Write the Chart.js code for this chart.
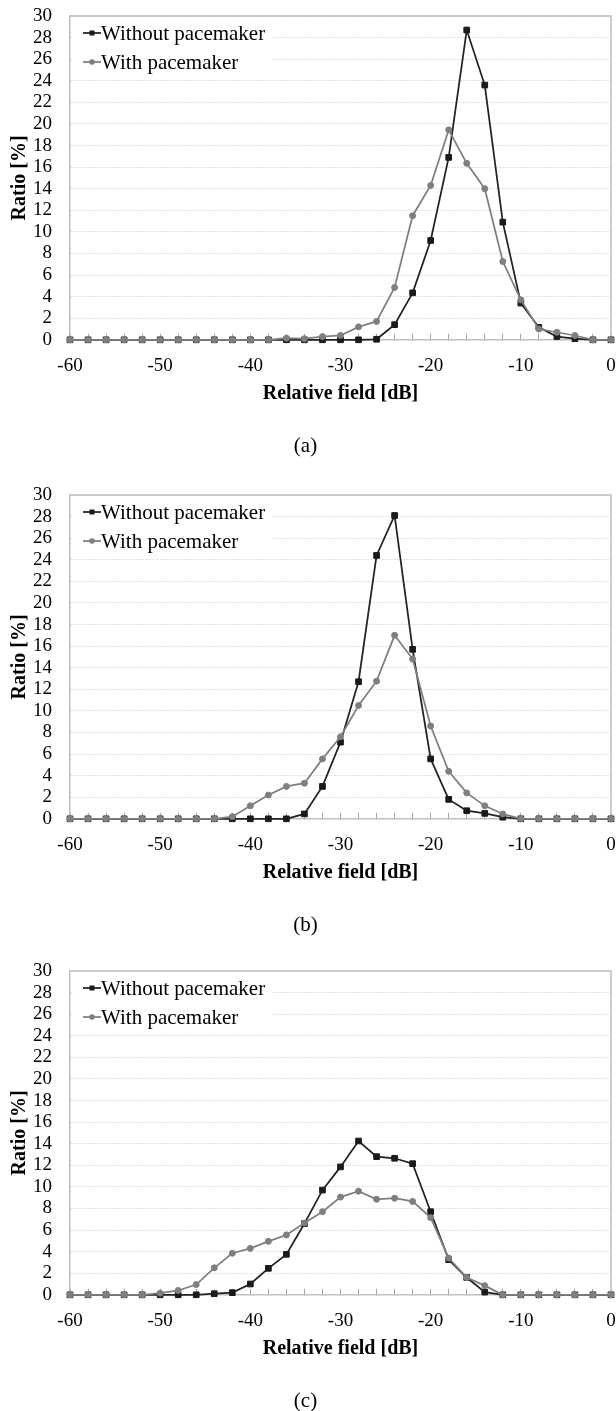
<!DOCTYPE html>
<html lang="en">
<head>
  <meta charset="UTF-8">
  <title>Relative field distribution</title>
  <script src="https://cdn.jsdelivr.net/npm/chart.js"></script>
  <style>
    html, body { margin: 0; padding: 0; background: #fff; overflow: hidden; }
    body { width: 616px; height: 1411px; position: relative; }
    canvas { position: absolute; left: 0; }
  </style>
</head>
<body>
  <canvas id="chartA" width="616" height="459" style="top:0px"></canvas>
  <canvas id="chartB" width="616" height="459" style="top:479px"></canvas>
  <canvas id="chartC" width="616" height="459" style="top:955px"></canvas>
  <script>
    // relative field [dB], one point every 2 dB
    const fieldDb = [-60, -58, -56, -54, -52, -50, -48, -46, -44, -42, -40, -38, -36, -34, -32, -30,
                     -28, -26, -24, -22, -20, -18, -16, -14, -12, -10, -8, -6, -4, -2, 0];

    const seriesNames = ['Without pacemaker', 'With pacemaker'];
    const captions = ['(a)', '(b)', '(c)'];
    const yTicks = { min: 0, max: 30, step: 2 };
    const xTicks = { min: -60, max: 0, step: 2, labelEvery: 10 };

    // ratio [%]
    const aWithout = [0, 0, 0, 0, 0, 0, 0, 0, 0, 0, 0, 0, 0, 0, 0, 0, 0, 0.05, 1.4, 4.35, 9.2, 16.9, 28.7, 23.6, 10.9, 3.4, 1.15, 0.3, 0.1, 0, 0];
    const aWith    = [0, 0, 0, 0, 0, 0, 0, 0, 0, 0, 0, 0, 0.15, 0.1, 0.3, 0.4, 1.2, 1.7, 4.85, 11.5, 14.3, 19.45, 16.35, 14.0, 7.25, 3.7, 1.0, 0.7, 0.4, 0, 0];

    const bWithout = [0, 0, 0, 0, 0, 0, 0, 0, 0, 0, 0, 0, 0, 0.45, 3.0, 7.1, 12.7, 24.4, 28.1, 15.7, 5.55, 1.8, 0.75, 0.5, 0.15, 0, 0, 0, 0, 0, 0];
    const bWith    = [0, 0, 0, 0, 0, 0, 0, 0, 0, 0.2, 1.2, 2.2, 3.0, 3.3, 5.55, 7.6, 10.5, 12.75, 17.0, 14.8, 8.6, 4.4, 2.4, 1.2, 0.45, 0, 0, 0, 0, 0, 0];

    const cWithout = [0, 0, 0, 0, 0, 0, 0, 0, 0.1, 0.2, 1.0, 2.45, 3.75, 6.6, 9.7, 11.85, 14.25, 12.8, 12.65, 12.15, 7.7, 3.25, 1.6, 0.25, 0, 0, 0, 0, 0, 0, 0];
    const cWith    = [0, 0, 0, 0, 0, 0.15, 0.4, 0.95, 2.5, 3.85, 4.3, 4.95, 5.55, 6.65, 7.7, 9.05, 9.6, 8.85, 8.95, 8.65, 7.15, 3.4, 1.6, 0.85, 0, 0, 0, 0, 0, 0, 0];

    Chart.defaults.font.family = '"Liberation Serif", "Times New Roman", serif';
    Chart.defaults.color = '#000';

    const darkColor = '#222222';
    const greyColor = '#7f7f7f';
    const axisColor = '#bfbfbf';

    // top and right edges of the plot box
    const frameBox = {
      id: 'frameBox',
      beforeDatasetsDraw(chart) {
        const { ctx, chartArea: a } = chart;
        ctx.save();
        ctx.strokeStyle = axisColor;
        ctx.lineWidth = 1.5;
        ctx.beginPath();
        ctx.moveTo(a.left, a.top);
        ctx.lineTo(a.right, a.top);
        ctx.lineTo(a.right, a.bottom);
        ctx.stroke();
        ctx.restore();
      }
    };

    // excel style legend inside the plot: line + marker + label
    const insideLegend = {
      id: 'insideLegend',
      afterDatasetsDraw(chart) {
        const { ctx, chartArea: a } = chart;
        const sets = chart.data.datasets;
        ctx.save();
        ctx.font = '21px "Liberation Serif", serif';
        ctx.textBaseline = 'middle';
        const x0 = a.left + 13;
        let widest = 0;
        sets.forEach(ds => { widest = Math.max(widest, ctx.measureText(ds.label).width); });
        ctx.fillStyle = '#fff';
        ctx.fillRect(a.left + 3, a.top + 4, 35 + widest, 58);
        sets.forEach((ds, i) => {
          const cy = a.top + 17 + i * 29;
          ctx.strokeStyle = ds.borderColor;
          ctx.lineWidth = 1.75;
          ctx.beginPath();
          ctx.moveTo(x0, cy);
          ctx.lineTo(x0 + 18, cy);
          ctx.stroke();
          ctx.fillStyle = ds.pointBackgroundColor;
          ctx.beginPath();
          if (ds.pointStyle === 'rect') {
            ctx.rect(x0 + 9 - 2.5, cy - 2.5, 5, 5);
          } else {
            ctx.arc(x0 + 9, cy, 2.8, 0, Math.PI * 2);
          }
          ctx.fill();
          ctx.fillStyle = '#000';
          ctx.fillText(ds.label, x0 + 18, cy + 1);
        });
        ctx.restore();
      }
    };

    function toPoints(values) {
      return fieldDb.map((x, i) => ({ x: x, y: values[i] }));
    }

    function createChart(id, withoutVals, withVals, caption) {
      const ctx = document.getElementById(id).getContext('2d');
      return new Chart(ctx, {
        type: 'line',
        data: {
          datasets: [{
            label: seriesNames[0],
            data: toPoints(withoutVals),
            borderColor: darkColor,
            backgroundColor: darkColor,
            pointBackgroundColor: '#1a1a1a',
            pointBorderColor: '#1a1a1a',
            pointStyle: 'rect',
            pointRadius: 4,
            pointBorderWidth: 1,
            borderWidth: 1.75,
            tension: 0,
            clip: false,
            order: 1
          }, {
            label: seriesNames[1],
            data: toPoints(withVals),
            borderColor: greyColor,
            backgroundColor: greyColor,
            pointBackgroundColor: greyColor,
            pointBorderColor: greyColor,
            pointStyle: 'circle',
            pointRadius: 3,
            pointBorderWidth: 1,
            borderWidth: 1.75,
            tension: 0,
            clip: false,
            order: 0
          }]
        },
        options: {
          responsive: false,
          animation: false,
          devicePixelRatio: 1,
          layout: { padding: { top: 16, right: 5, left: 0, bottom: 0 } },
          plugins: {
            legend: { display: false },
            tooltip: { enabled: false },
            title: {
              display: true,
              position: 'bottom',
              text: caption,
              font: { size: 21, weight: 'normal' },
              color: '#000',
              padding: { top: 24, bottom: 0 }
            }
          },
          scales: {
            x: {
              type: 'linear',
              min: xTicks.min,
              max: xTicks.max,
              afterFit: scale => {
                scale.height = 70;
                scale.paddingLeft = 0;
                scale.paddingRight = 5;
              },
              ticks: {
                stepSize: xTicks.step,
                autoSkip: false,
                maxRotation: 0,
                padding: 21,
                font: { size: 19 },
                color: '#000',
                callback: v => (v % xTicks.labelEvery === 0 ? String(v) : '')
              },
              grid: {
                drawOnChartArea: false,
                drawTicks: true,
                tickLength: -6,
                tickColor: '#a6a6a6',
                tickWidth: 1
              },
              border: { color: axisColor, width: 1.5 },
              title: {
                display: true,
                text: 'Relative field [dB]',
                font: { size: 20, weight: 'bold' },
                color: '#000',
                padding: { top: 0, bottom: 4 }
              }
            },
            y: {
              min: yTicks.min,
              max: yTicks.max,
              afterFit: scale => {
                scale.width = 70;
                scale.paddingTop = 0;
                scale.paddingBottom = 0;
              },
              ticks: {
                stepSize: yTicks.step,
                autoSkip: false,
                padding: 18,
                font: { size: 19 },
                color: '#000'
              },
              grid: {
                color: '#c4c4c4',
                lineWidth: 1,
                drawTicks: false
              },
              border: { color: axisColor, width: 1.5, dash: [1, 2] },
              title: {
                display: true,
                text: 'Ratio [%]',
                font: { size: 20, weight: 'bold' },
                color: '#000',
                padding: { top: 8, bottom: 0 }
              }
            }
          }
        },
        plugins: [frameBox, insideLegend]
      });
    }

    createChart('chartA', aWithout, aWith, captions[0]);
    createChart('chartB', bWithout, bWith, captions[1]);
    createChart('chartC', cWithout, cWith, captions[2]);
  </script>
</body>
</html>
